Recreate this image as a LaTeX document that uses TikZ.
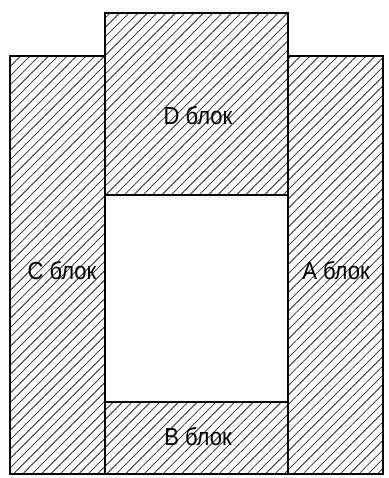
\documentclass[tikz,border=0pt]{standalone}
\usepackage{fontspec}
\setmainfont{Liberation Sans}
\usetikzlibrary{patterns.meta}
\tikzset{
  blk/.style={draw=black, line width=1.6pt, pattern={Lines[angle=45,distance=6.6pt,line width=0.6pt]}, pattern color=black},
  lbl/.style={font=\fontsize{22}{26}\selectfont, inner sep=0pt, yscale=1.12, transform shape}
}
\begin{document}
\begin{tikzpicture}[x=1pt,y=-1pt]
\useasboundingbox (0,0) rectangle (388,478);
\draw[blk] (10,56) rectangle (105,474);
\draw[blk] (288,56) rectangle (383,474);
\draw[blk] (105,13) rectangle (288,195);
\draw[blk] (105,402) rectangle (288,474);
\draw[line width=1.6pt] (105,195) rectangle (288,402);
\node[lbl] (D) at (198,116) {D блок};
\node[lbl] (C) at (62,271) {C блок};
\node[lbl] (A) at (336,271) {A блок};
\node[lbl] (B) at (198,437) {B блок};
\end{tikzpicture}
\end{document}
